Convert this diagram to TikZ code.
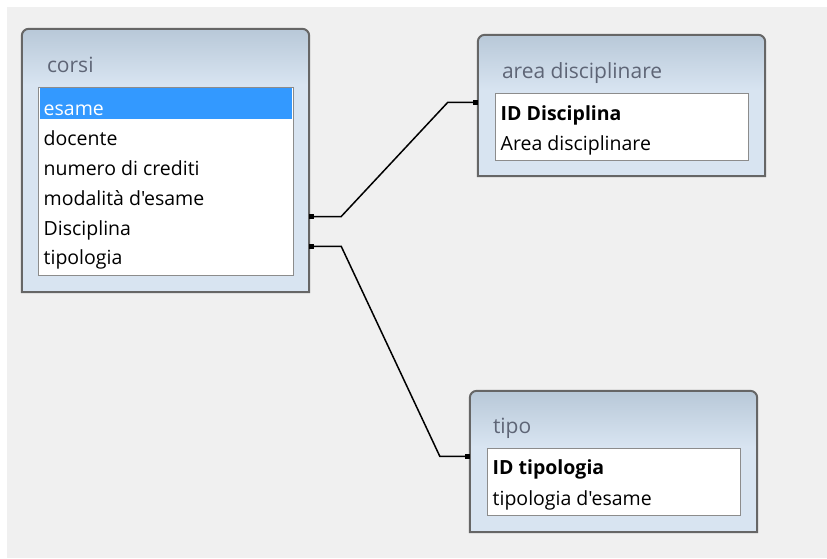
\documentclass[tikz,border=0pt]{standalone}
\usepackage{fontspec}
\newfontfamily\dbfont{Open Sans}
\usetikzlibrary{arrows.meta,positioning,calc}

\definecolor{canvas}{HTML}{F0F0F0}
\definecolor{boxtop}{HTML}{B8C8D8}
\definecolor{boxlight}{HTML}{D8E4F1}
\definecolor{framegray}{HTML}{666666}
\definecolor{listgray}{HTML}{8C8C8C}
\definecolor{titlegray}{HTML}{5E6576}
\definecolor{selblue}{HTML}{3399FF}

% frame of a table window: rounded top, square bottom
\newcommand\tableframe[1]{%
  \fill[boxlight] (#1.south west) -- ([yshift=-7pt]#1.north west)
    arc[start angle=180,end angle=90,radius=7pt] -- ([xshift=-7pt]#1.north east)
    arc[start angle=90,end angle=0,radius=7pt] -- (#1.south east) -- cycle;
  \shade[top color=boxtop,bottom color=boxlight] ([yshift=-7pt]#1.north west)
    arc[start angle=180,end angle=90,radius=7pt] -- ([xshift=-7pt]#1.north east)
    arc[start angle=90,end angle=0,radius=7pt] -- ([yshift=-56pt]#1.north east)
    -- ([yshift=-56pt]#1.north west) -- cycle;
  \draw[framegray,line width=2pt] (#1.south west) -- ([yshift=-7pt]#1.north west)
    arc[start angle=180,end angle=90,radius=7pt] -- ([xshift=-7pt]#1.north east)
    arc[start angle=90,end angle=0,radius=7pt] -- (#1.south east) -- cycle;
}

\begin{document}
\begin{tikzpicture}[x=1pt,y=-1pt,
  table/.style={inner sep=0pt,minimum width=287pt},
  fieldlist/.style={draw=listgray,line width=1pt,fill=white,inner sep=0pt},
  header/.style={anchor=base west,inner sep=0pt,text=titlegray,font=\dbfont\fontsize{21}{21}\selectfont},
  field/.style={anchor=base west,inner sep=0pt,font=\dbfont\fontsize{19.5}{19.5}\selectfont},
  keyfield/.style={field,font=\dbfont\fontsize{19.5}{19.5}\selectfont\bfseries},
  link/.style={draw=black,line width=1.5pt,{Square[length=5pt,width=5pt]}-{Square[length=5pt,width=5pt]}}
]
\useasboundingbox (0,0) rectangle (827,558);
\fill[canvas] (7,7) rectangle (827,558);

% tables
\node[table,minimum height=263pt] (corsi) at (165.5,160.5) {};
\node[table,minimum height=141pt] (area) at (621.5,105.5) {};
\node[table,minimum height=141pt] (tipo) at (613.5,461.5) {};
\tableframe{corsi}
\tableframe{area}
\tableframe{tipo}

\node[fieldlist,minimum width=255pt,minimum height=188pt,below=58pt of corsi.north] (corsi-list) {};
\node[fieldlist,minimum width=253pt,minimum height=67pt,below=58pt of area.north] (area-list) {};
\node[fieldlist,minimum width=253pt,minimum height=67pt,below=57pt of tipo.north] (tipo-list) {};

\fill[selblue] ($(corsi-list.north west)+(2,1)$) rectangle ($(corsi-list.north east)+(-2,32)$);

% titles
\node[header] (corsi-title) at ($(corsi.north west)+(25,44)$) {corsi};
\node[header] (area-title) at ($(area.north west)+(24,44)$) {area disciplinare};
\node[header] (tipo-title) at ($(tipo.north west)+(23,43)$) {tipo};

% fields
\node[field,text=white] (corsi-1) at ($(corsi-list.north west)+(6,29)$) {esame};
\node[field] (corsi-2) at ($(corsi-1.base west)+(0,29.8)$) {docente};
\node[field] (corsi-3) at ($(corsi-2.base west)+(0,29.8)$) {numero di crediti};
\node[field] (corsi-4) at ($(corsi-3.base west)+(0,29.8)$) {modalità d'esame};
\node[field] (corsi-5) at ($(corsi-4.base west)+(0,29.8)$) {Disciplina};
\node[field] (corsi-6) at ($(corsi-5.base west)+(0,29.8)$) {tipologia};

\node[keyfield] (area-1) at ($(area-list.north west)+(6,28)$) {ID Disciplina};
\node[field] (area-2) at ($(area-1.base west)+(0,29.8)$) {Area disciplinare};

\node[keyfield] (tipo-1) at ($(tipo-list.north west)+(6,27)$) {ID tipologia};
\node[field] (tipo-2) at ($(tipo-1.base west)+(0,31)$) {tipologia d'esame};

% relationships
\draw[link] ([yshift=18.5pt]corsi-5.base -| corsi.east) -- ++(32,0)
  -- ($([yshift=18.5pt]area-1.base -| area.west)+(-30,0)$)
  -- ([yshift=18.5pt]area-1.base -| area.west);
\draw[link] ([yshift=18.5pt]corsi-6.base -| corsi.east) -- ++(32,0)
  -- ($([yshift=18.5pt]tipo-1.base -| tipo.west)+(-30,0)$)
  -- ([yshift=18.5pt]tipo-1.base -| tipo.west);
\end{tikzpicture}
\end{document}
